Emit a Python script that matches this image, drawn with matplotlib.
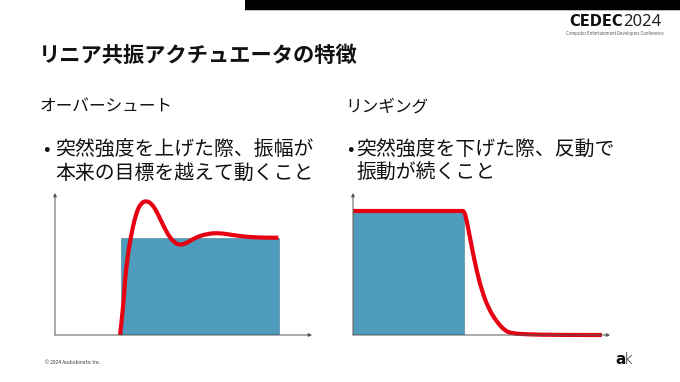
import matplotlib
matplotlib.use("Agg")
import matplotlib.pyplot as plt
import matplotlib.patches as mpatches
from matplotlib.path import Path

plt.rcParams['font.family'] = ['Noto Sans CJK JP', 'DejaVu Sans']

W, H = 680, 382

# ---- data ----
title = "リニア共振アクチュエータの特徴"
heads = ["オーバーシュート", "リンギング"]
bullets = [["突然強度を上げた際、振幅が", "本来の目標を越えて動くこと"],
           ["突然強度を下げた際、反動で", "振動が続くこと"]]

# overshoot: input step (bar) and actuator response (red)
os_bar_start, os_bar_width, os_bar_level = 2.55, 6.15, 1.0
os_t = [2.53, 2.66, 2.72, 2.83, 2.94, 3.15, 3.35, 3.57, 3.76, 3.96, 4.22, 4.47,
        4.70, 4.89, 5.12, 5.45, 5.90, 6.36, 6.87, 7.39, 8.11, 8.69]
os_v = [0.0, 0.29, 0.57, 0.81, 1.0, 1.25, 1.36, 1.38, 1.35, 1.27, 1.12, 1.0,
        0.94, 0.925, 0.945, 1.0, 1.04, 1.05, 1.03, 1.01, 1.0, 1.0]

# ringing: input step down and response
rg_bar_start, rg_bar_width, rg_bar_level = 0.0, 4.32, 1.0
rg_t = [0.0, 4.24, 4.32, 4.42, 4.62, 4.81, 5.01, 5.27, 5.59, 5.91, 6.18, 6.76, 7.93, 9.68]
rg_v = [1.0, 1.0, 1.0, 0.93, 0.71, 0.52, 0.36, 0.215, 0.107, 0.035, 0.013, 0.005, 0.0, 0.0]

blue = "#4f9bbb"
red = "#e60012"
ink = "#111111"

fig = plt.figure(figsize=(W / 100, H / 100), dpi=100)
fig.patch.set_facecolor("white")


def fx(px):
    return px / W


def fy(py):
    return 1 - py / H


# top black band
fig.add_artist(mpatches.Rectangle((fx(245), fy(9.5)), fx(680 - 245), 9.5 / H,
                                  transform=fig.transFigure, color="black", lw=0))
fig.add_artist(mpatches.Rectangle((fx(245), fy(10.5)), fx(680 - 245), 1 / H,
                                  transform=fig.transFigure, color="#bbbbbb", lw=0))

# CEDEC logo
fig.text(fx(569), fy(26), "CEDEC", fontsize=10.5, fontweight="heavy",
         family=["DejaVu Sans"], va="baseline", ha="left", color=ink)
fig.text(fx(623), fy(26), "2024", fontsize=12, fontweight="light",
         family=["Noto Sans", "DejaVu Sans"], va="baseline", ha="left", color="#222222")
fig.text(fx(615), fy(33), "Computer Entertainment Developers Conference",
         fontsize=3.1, va="center", ha="center", color="#555555")

# title and headings
fig.text(fx(39), fy(55), title, fontsize=15.3, fontweight="bold",
         va="center", ha="left", color=ink)
for xh, head in zip([40, 345], heads):
    fig.text(fx(xh), fy(107), head, fontsize=12, va="center", ha="left",
             color=ink)

for xb, xt, lines in zip([43, 347], [55, 356], bullets):
    fig.text(fx(xb), fy(150), "•", fontsize=14, va="center", ha="left",
             color=ink)
    for i, line in enumerate(lines):
        fig.text(fx(xt), fy(150 + 23 * i), line, fontsize=14.3, va="center",
                 ha="left", color=ink)

# footer
fig.text(fx(45), fy(362), "© 2024 Audiokinetic Inc.", fontsize=3.5,
         va="center", ha="left", color="#333333")
fig.text(fx(615), fy(364), "a", fontsize=11, fontweight="bold",
         family=["DejaVu Sans"], va="baseline", ha="left", color=ink)
fig.text(fx(624), fy(364), "k", fontsize=11, fontweight="light",
         family=["DejaVu Sans"], va="baseline", ha="left", color=ink)


def smooth_path(t, v):
    # read points used as quadratic control points, midpoints on the curve
    pts = list(zip(t, v))
    verts = [pts[0]]
    codes = [Path.MOVETO]
    for i in range(1, len(pts) - 1):
        nxt = pts[i + 1]
        mid = ((pts[i][0] + nxt[0]) / 2, (pts[i][1] + nxt[1]) / 2)
        if i == len(pts) - 2:
            mid = nxt
        verts += [pts[i], mid]
        codes += [Path.CURVE3, Path.CURVE3]
    return Path(verts, codes)


def panel(x0, x1, ytop, ybot, ymax, bar, t, v):
    ax = fig.add_axes([fx(x0), fy(ybot), fx(x1 - x0), (ybot - ytop) / H])
    ax.set_xlim(0, 10)
    ax.set_ylim(0, ymax)
    ax.axis("off")
    start, width, level = bar
    ax.bar([start], [level], width=width, align="edge", color=blue,
           edgecolor="#3f7f99", lw=0.4)
    ax.add_patch(mpatches.PathPatch(smooth_path(t, v), facecolor="none",
                                    edgecolor=red, lw=3.0, capstyle="butt",
                                    joinstyle="round", clip_on=False, zorder=3))
    ax.annotate("", xy=(1, 0), xytext=(0, 0), xycoords="axes fraction",
                arrowprops=dict(arrowstyle="-|>", color="#555555", lw=0.7,
                                mutation_scale=5, shrinkA=0, shrinkB=0))
    ax.annotate("", xy=(0, 1), xytext=(0, 0), xycoords="axes fraction",
                arrowprops=dict(arrowstyle="-|>", color="#555555", lw=0.7,
                                mutation_scale=5, shrinkA=0, shrinkB=0))
    return ax


panel(55, 312, 193, 335, 1.46, (os_bar_start, os_bar_width, os_bar_level), os_t, os_v)
panel(353, 610, 193, 335, 1.145, (rg_bar_start, rg_bar_width, rg_bar_level), rg_t, rg_v)

fig.savefig("out.png", dpi=100)
